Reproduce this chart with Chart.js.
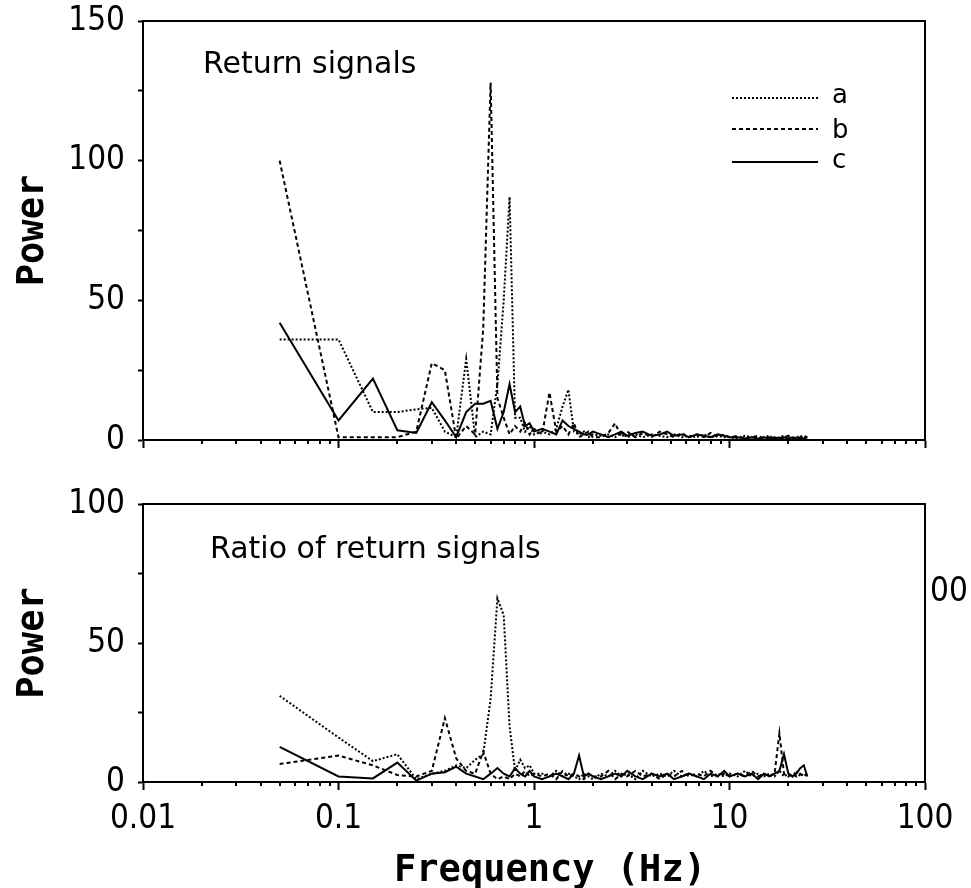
<!DOCTYPE html>
<html lang="en">
<head>
<meta charset="UTF-8">
<title>Power spectra</title>
<style>
  html, body { margin: 0; padding: 0; background: #fff; }
  body { width: 971px; height: 888px; position: relative; overflow: hidden; }
  .box { position: absolute; left: 0; width: 971px; }
</style>
</head>
<body>
<div class="box" style="top:0;height:470px"><canvas id="top"></canvas></div>
<div class="box" style="top:470px;height:418px"><canvas id="bottom"></canvas></div>

<script src="https://cdn.jsdelivr.net/npm/chart.js@4.4.1/dist/chart.umd.min.js"></script>
<script>
// frequency grid (Hz)
const freq = [0.05, 0.1, 0.15, 0.2, 0.25, 0.3, 0.35, 0.4, 0.45, 0.5,
  0.55, 0.6, 0.65, 0.7, 0.75, 0.8, 0.85, 0.9, 0.95, 1.0,
  1.1, 1.2, 1.3, 1.4, 1.5, 1.6, 1.7, 1.8, 1.9, 2.0,
  2.2, 2.4, 2.6, 2.8, 3.0, 3.3, 3.6, 4.0, 4.4, 4.8, 5.2, 5.7, 6.2, 6.8, 7.4, 8.0, 8.7, 9.4,
  10, 11, 12, 13, 14, 15, 16, 17, 18, 19, 20, 21, 22, 23, 24, 25];

// top panel: return signals
const sigA = [36, 36, 10, 10, 11, 11.5, 3, 1, 29, 1, 3, 2, 20, 50, 87, 8, 8, 3, 5, 2,
  3, 2, 4, 12, 18, 3, 2, 3, 1, 2,
  1.5, 2, 1, 2.5, 1, 2, 1, 2, 1.5, 1, 2, 1, 1.5, 1, 2, 1, 1.5, 1,
  1, 0.5, 1.5, 1, 0.5, 1, 1.5, 0.5, 1, 1.5, 1, 0.5, 1, 1.5, 1, 1];
const sigB = [100, 1, 1, 1, 3, 27.5, 25, 0.5, 5, 2, 40, 128, 15, 8, 2, 5, 3, 6, 2, 4,
  2, 17, 3, 5, 2, 6, 1, 2, 3, 1,
  1, 2.5, 6, 1, 3, 1, 2.5, 1, 3, 2, 1, 2.5, 1, 2, 1, 2.5, 1, 2,
  1, 1.5, 0.5, 1, 1.5, 0.5, 1, 0.5, 1, 0.5, 1.5, 0.5, 1, 0.5, 1.5, 1];
const sigC = [42, 7, 22, 3.5, 2.5, 13.5, 7, 1, 10, 13, 13, 14, 4, 10, 20, 10, 12, 5, 6, 3,
  4, 3, 2, 7, 5, 4, 3, 2, 2, 3,
  2, 1, 2, 3, 1.5, 2.5, 3, 1.5, 2, 3, 1.5, 2, 1, 2, 1.5, 1, 2, 1.5,
  1, 1, 0.5, 1, 0.5, 1, 0.5, 1, 0.5, 1, 0.5, 1, 0.5, 1, 0.5, 1];

// bottom panel: ratio of return signals
const ratioA = [31, 16, 7.5, 10, 1, 3, 4, 6, 5, 8, 10, 30, 66, 60, 20, 4, 8, 5, 6, 3,
  3, 2, 4, 2, 3, 2, 1, 3, 2, 1,
  3, 2, 4, 2, 3, 1, 4, 2, 3, 2, 4, 2, 3, 2, 4, 2, 3, 2,
  3, 2, 4, 2, 3, 2, 3, 2, 4, 2, 3, 2, 4, 2, 3, 2];
const ratioB = [6.5, 9.5, 6, 2.5, 2, 4, 23, 8.5, 4, 3, 11, 3, 1, 2, 1, 3, 2, 4, 2, 3,
  2, 3, 1, 4, 2, 3, 2, 1, 3, 2,
  2, 4, 1, 3, 2, 4, 2, 3, 1, 3, 2, 4, 2, 3, 2, 4, 2, 3,
  2, 3, 2, 4, 2, 3, 2, 3, 17.5, 3, 2, 3, 2, 3, 2, 3];
const ratioC = [12.6, 2, 1.3, 7, 0.5, 3, 3.5, 5.5, 3, 2, 1, 3, 5, 3, 2, 5, 3, 2, 4, 2,
  1, 2, 3, 2, 1, 3, 9.5, 2, 3, 2,
  1, 2, 3, 2, 4, 2, 1, 3, 2, 3, 1, 2, 3, 2, 1, 3, 2, 4,
  2, 3, 2, 3, 1, 3, 2, 3, 4, 10, 3, 2, 3, 5, 6, 2];

const seriesNames = ['a', 'b', 'c'];
const xMajor = [0.01, 0.1, 1, 10, 100];
const xMajorLabels = ['0.01', '0.1', '1', '10', '100'];

const condensed = "'DejaVu Sans Condensed', 'Liberation Sans Narrow', 'DejaVu Sans', sans-serif";
const plain = "'DejaVu Sans', sans-serif";
const mono = "'DejaVu Sans Mono', monospace";

const styles = [
  { borderDash: [2, 2], borderWidth: 2 },
  { borderDash: [4, 3], borderWidth: 2 },
  { borderDash: [], borderWidth: 2 }
];

// tick values 1..9 x 10^n for the log axis
const xTicks = [];
for (let e = -2; e < 2; e++) {
  for (let m = 1; m < 10; m++) xTicks.push(+(m * Math.pow(10, e)).toPrecision(3));
}
xTicks.push(100);

function isMajor(v) {
  return xMajor.some(m => Math.abs(v - m) / m < 1e-6);
}

function makeDatasets(lists) {
  return lists.map((vals, i) => ({
    label: seriesNames[i],
    data: freq.map((f, j) => ({ x: f, y: vals[j] })),
    borderColor: '#000',
    borderDash: styles[i].borderDash,
    borderWidth: styles[i].borderWidth,
    pointRadius: 0,
    fill: false,
    tension: 0
  }));
}

// frame, minor ticks and free texts
const decor = {
  id: 'decor',
  afterDraw(chart, args, opts) {
    const ctx = chart.ctx;
    const a = chart.chartArea;
    const xs = chart.scales.x;
    ctx.save();
    ctx.strokeStyle = '#000';
    ctx.lineWidth = 2;
    ctx.setLineDash([]);
    ctx.strokeRect(a.left, a.top, a.right - a.left, a.bottom - a.top);
    ctx.beginPath();
    xTicks.forEach(v => {
      if (isMajor(v)) return;
      const px = Math.round(xs.getPixelForValue(v));
      ctx.moveTo(px, a.bottom);
      ctx.lineTo(px, a.bottom + 4);
    });
    ctx.stroke();
    ctx.fillStyle = '#000';
    (opts.texts || []).forEach(t => {
      ctx.font = t.font;
      ctx.textAlign = t.align || 'left';
      ctx.textBaseline = 'alphabetic';
      ctx.fillText(t.text, t.x, t.y);
    });
    (opts.legend || []).forEach((l, i) => {
      ctx.beginPath();
      ctx.lineWidth = styles[i].borderWidth;
      ctx.setLineDash(styles[i].borderDash);
      ctx.moveTo(732, l.y);
      ctx.lineTo(818, l.y);
      ctx.stroke();
      ctx.setLineDash([]);
      ctx.font = '26px ' + plain;
      ctx.textAlign = 'left';
      ctx.fillText(seriesNames[i], 832, l.ty);
    });
    ctx.restore();
  }
};

function makeChart(id, lists, yMax, padTop, xHeight, showXLabels, decorOpts) {
  return new Chart(document.getElementById(id), {
    type: 'line',
    data: { datasets: makeDatasets(lists) },
    plugins: [decor],
    options: {
      responsive: true,
      maintainAspectRatio: false,
      animation: false,
      layout: { padding: { top: padTop, right: 46, left: 0, bottom: 0 } },
      plugins: {
        legend: { display: false },
        tooltip: { enabled: false },
        decor: decorOpts
      },
      scales: {
        x: {
          type: 'logarithmic',
          min: 0.01,
          max: 100,
          afterBuildTicks: s => { s.ticks = xTicks.map(v => ({ value: v, major: isMajor(v) })); },
          afterFit: s => { s.height = xHeight; s.paddingLeft = 0; s.paddingRight = 0; },
          ticks: {
            display: showXLabels,
            autoSkip: false,
            maxRotation: 0,
            padding: 10,
            color: '#000',
            font: { family: condensed, size: 33 },
            callback: v => {
              const k = xMajor.findIndex(m => Math.abs(v - m) / m < 1e-6);
              return k >= 0 ? xMajorLabels[k] : '';
            }
          },
          grid: {
            drawOnChartArea: false,
            tickLength: 8,
            tickWidth: 2,
            tickColor: c => (c.tick && isMajor(c.tick.value)) ? '#000' : 'rgba(0,0,0,0)'
          },
          border: { display: true, color: '#000', width: 2 }
        },
        y: {
          min: 0,
          max: yMax,
          afterFit: s => { s.width = 143; s.paddingTop = 0; s.paddingBottom = 0; },
          ticks: {
            stepSize: 25,
            padding: 13,
            color: '#000',
            font: { family: condensed, size: 33 },
            callback: v => (v % 50 === 0 ? String(v) : '')
          },
          grid: { drawOnChartArea: false, tickLength: 5, tickWidth: 2, tickColor: '#000' },
          border: { display: true, color: '#000', width: 2 },
          title: {
            display: true,
            text: 'Power',
            color: '#000',
            padding: { top: 11, bottom: 0 },
            font: { family: mono, size: 37, weight: 'bold' }
          }
        }
      }
    }
  });
}

makeChart('top', [sigA, sigB, sigC], 150, 21, 30, false, {
  texts: [{ text: 'Return signals', x: 203, y: 73, font: '30px ' + plain }],
  legend: [{ y: 98, ty: 103 }, { y: 129, ty: 138 }, { y: 162, ty: 168 }]
});

makeChart('bottom', [ratioA, ratioB, ratioC], 100, 34, 106, true, {
  texts: [
    { text: 'Ratio of return signals', x: 210, y: 88, font: '30px ' + plain },
    { text: '00', x: 930, y: 131, font: '33px ' + condensed },
    { text: 'Frequency (Hz)', x: 550, y: 411, font: 'bold 37px ' + mono, align: 'center' }
  ]
});
</script>
</body>
</html>
